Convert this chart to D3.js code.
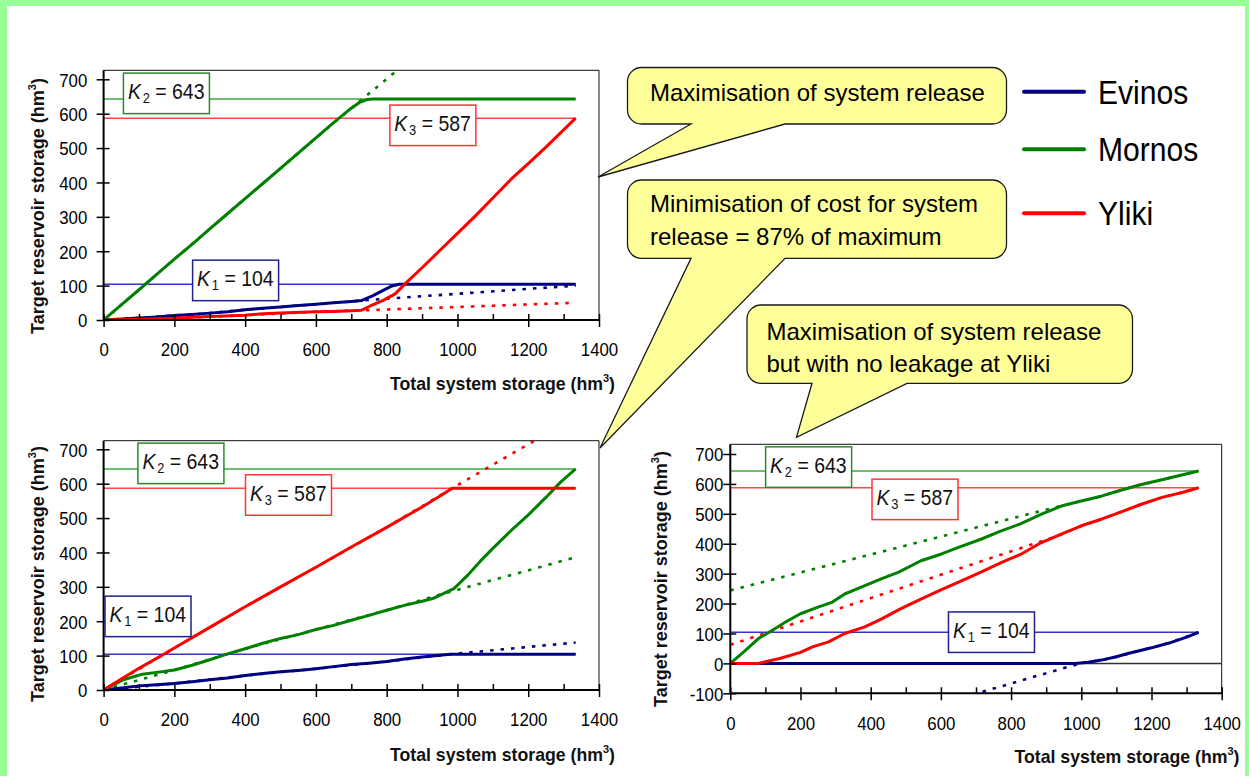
<!DOCTYPE html>
<html><head><meta charset="utf-8">
<script src="https://cdn.jsdelivr.net/npm/d3@7"></script>
<style>
html,body{margin:0;padding:0;background:#fff;}
svg{display:block;}
text{font-family:"Liberation Sans",Arial,Helvetica,sans-serif;}
</style></head><body>
<svg id="c" width="1249" height="776"></svg>
<script>
// ---------------- DATA ----------------
const reservoirs = ["Evinos", "Mornos", "Yliki"];
const capacity = [104, 643, 587];            // K1, K2, K3 (hm3)
const xTicks = [0, 200, 400, 600, 800, 1000, 1200, 1400];
const xMinorTicks = [100, 300, 500, 700, 900, 1100, 1300];
const yTicksPos = [0, 100, 200, 300, 400, 500, 600, 700];
const yTicksNeg = [-100, 0, 100, 200, 300, 400, 500, 600, 700];
const xTitle = "Total system storage (hm";
const yTitle = "Target reservoir storage (hm";
const notes = [
  ["Maximisation of system release"],
  ["Minimisation of cost for system", "release = 87% of maximum"],
  ["Maximisation of system release", "but with no leakage at Yliki"]
];

// Panel 1: maximisation of system release
const p1Evinos = [[0,0],[50,3],[100,6],[150,9],[200,13],[250,16],[300,20],[350,24],[400,30],[450,34],[500,38],[550,42],[600,46],[650,50],[700,54],[730,57],[760,70],[790,86],[815,99],[835,104],[1334,104]];
const p1EvinosDot = [[0,0],[100,6],[200,13],[300,20],[400,30],[500,38],[600,46],[700,54],[730,57],[1334,100]];
const p1Mornos = [[0,0],[50,44],[100,88],[150,133],[200,177],[250,220],[300,265],[350,309],[400,353],[450,397],[500,441],[550,485],[600,530],[650,574],[700,616],[725,634],[745,641],[760,643],[1334,643]];
const p1MornosDot = [[0,0],[100,88],[200,177],[300,265],[400,353],[500,441],[600,530],[700,616],[840,735]];
const p1Yliki = [[0,0],[100,2],[200,5],[250,8],[300,10],[400,14],[450,18],[500,20],[600,24],[650,25],[700,27],[728,28],[752,40],[790,57],[824,76],[857,110],[900,152],[950,202],[1000,252],[1050,302],[1100,355],[1150,408],[1200,455],[1250,503],[1300,553],[1334,587]];
const p1YlikiDot = [[0,0],[200,5],[400,14],[600,24],[728,28],[1334,50]];

// Panel 2: minimisation of cost, release = 87% of maximum
const p2Evinos = [[0,0],[50,6],[100,12],[150,15],[200,19],[250,24],[300,30],[350,35],[400,42],[450,48],[500,53],[550,57],[600,62],[650,68],[700,74],[750,78],[800,83],[850,90],[900,96],[950,101],[980,104],[1334,104]];
const p2EvinosDot = [[0,0],[200,19],[400,42],[600,62],[800,83],[980,104],[1334,138]];
const p2Mornos = [[0,0],[56,30],[110,46],[155,52],[200,58],[250,72],[300,88],[350,105],[400,120],[450,136],[500,150],[550,161],[600,176],[650,188],[700,203],[750,217],[800,232],[850,246],[900,258],[930,266],[960,280],[990,295],[1030,335],[1064,374],[1100,412],[1159,471],[1201,510],[1250,560],[1290,603],[1334,643]];
const p2MornosDot = [[0,0],[200,58],[400,120],[600,176],[800,232],[960,280],[1334,386]];
const p2Yliki = [[0,0],[50,32],[100,63],[170,104],[200,122],[300,182],[400,242],[500,300],[600,357],[700,416],[800,473],[900,532],[960,570],[985,587],[1334,587]];
const p2YlikiDot = [[0,0],[200,122],[400,242],[600,357],[800,473],[985,587],[1240,738]];

// Panel 3: maximisation of system release, no leakage at Yliki
const p3Evinos = [[0,0],[983,0],[1020,4],[1057,11],[1100,22],[1130,32],[1171,44],[1200,52],[1250,68],[1300,88],[1334,104]];
const p3EvinosDot = [[690,-105],[800,-67],[900,-33],[1000,1],[1057,11],[1100,22],[1171,44],[1250,68],[1334,104]];
const p3Mornos = [[0,0],[40,40],[80,83],[120,111],[160,140],[200,166],[250,188],[291,205],[326,232],[380,258],[428,282],[480,305],[543,343],[600,365],[650,388],[714,415],[770,442],[828,467],[885,498],[943,526],[1000,543],[1057,559],[1110,578],[1171,598],[1230,614],[1280,628],[1334,643]];
const p3MornosDot = [[0,244],[940,526],[1000,543],[1057,559],[1110,578],[1171,598],[1230,614],[1280,628],[1334,643]];
const p3Yliki = [[0,0],[80,0],[143,17],[200,37],[234,55],[280,72],[326,100],[383,122],[430,148],[486,183],[540,213],[600,246],[660,277],[714,305],[770,336],[828,365],[880,400],[943,432],[1000,460],[1057,482],[1110,505],[1171,532],[1230,555],[1290,572],[1334,587]];
const p3YlikiDot = [[0,62],[937,428],[1000,460],[1057,482],[1110,505],[1171,532],[1230,555],[1290,572],[1334,587]];

// K-label anchors (data coords of box top-left corner) per panel: K1, K2, K3
const p1Labels = [[251.5,174],[56,718],[809,625]];
const p2Labels = [[4,273],[97,718],[401,626]];
const p3Labels = [[621.6,172],[100.6,724],[403.7,616]];

// ---------------- STYLE / LAYOUT ----------------
const seriesColor = ["#000080", "#008000", "#ff0000"];
const kLineColor = ["#3535cc", "#3aa83a", "#ff4545"];
const kBoxColor = ["#202090", "#2a8a2a", "#ff3535"];
const NARROW = 0.885;

const panels = [
  {xr:[103.6,599], yd:[0,700], yr:[320,79.3], top:70.3, yt:yTicksPos, lblOff:16.3,
   xt:[615,389.5], ytl:[44,206],
   solid:[p1Evinos,p1Mornos,p1Yliki], dot:[p1EvinosDot,p1MornosDot,p1YlikiDot], labels:p1Labels},
  {xr:[103.6,599], yd:[0,700], yr:[690,449.3], top:440.7, yt:yTicksPos, lblOff:16.3,
   xt:[615,760.5], ytl:[44,574],
   solid:[p2Evinos,p2Mornos,p2Yliki], dot:[p2EvinosDot,p2MornosDot,p2YlikiDot], labels:p2Labels},
  {xr:[730.3,1221.7], yd:[-100,700], yr:[693.3,454], top:444.3, yt:yTicksNeg, lblOff:7,
   xt:[1239.5,763], ytl:[667,579],
   solid:[p3Evinos,p3Mornos,p3Yliki], dot:[p3EvinosDot,p3MornosDot,p3YlikiDot], labels:p3Labels}
];

const svg = d3.select("#c");
svg.append("rect").attr("width",1249).attr("height",776).attr("fill","#99ff99");
svg.append("rect").attr("x",7).attr("y",6).attr("width",1238).attr("height",770).attr("fill","#ffffff");
const defs = svg.append("defs");
const total = d3.sum(capacity);

panels.forEach((p, i) => {
  const x = d3.scaleLinear().domain([0,1400]).range(p.xr);
  const y = d3.scaleLinear().domain(p.yd).range(p.yr);
  const g = svg.append("g");
  const xL = x(0), xR = x(1400), yB = y(p.yd[0]), yT = p.top;

  defs.append("clipPath").attr("id","clip"+i).append("rect")
    .attr("x",xL).attr("y",yT).attr("width",xR-xL).attr("height",yB-yT);

  g.append("path").attr("d",`M${xL},${yT}H${xR}V${yB}`).attr("fill","none")
    .attr("stroke","#111").attr("stroke-width",1);

  if (p.yd[0] < 0) {
    g.append("line").attr("x1",xL).attr("x2",xR).attr("y1",y(0)).attr("y2",y(0))
      .attr("stroke","#333").attr("stroke-width",1.5);
  }

  capacity.forEach((k,j) => {
    g.append("line").attr("x1",x(0)).attr("x2",x(total)).attr("y1",y(k)).attr("y2",y(k))
      .attr("stroke",kLineColor[j]).attr("stroke-width",1.5);
  });

  const line = d3.line().x(d=>x(d[0])).y(d=>y(d[1]));
  const lg = g.append("g").attr("clip-path",`url(#clip${i})`);
  p.dot.forEach((s,j) => {
    lg.append("path").attr("d",line(s)).attr("fill","none").attr("stroke",seriesColor[j])
      .attr("stroke-width",2.6).attr("stroke-dasharray","3.5,7");
  });
  p.solid.forEach((s,j) => {
    lg.append("path").attr("d",line(s)).attr("fill","none").attr("stroke",seriesColor[j])
      .attr("stroke-width",3).attr("stroke-linejoin","round");
  });

  const ax = g.append("g").attr("transform",`translate(0,${yB})`)
    .call(d3.axisBottom(x).tickValues(xTicks).tickSize(7).tickFormat(d=>String(d)));
  ax.select(".domain").remove();
  ax.selectAll(".tick line").attr("y1",-6).attr("stroke","#000").attr("stroke-width",1.5);
  ax.selectAll(".tick text").attr("y",23).attr("dy","0.71em").attr("font-size",19)
    .attr("font-family",null).attr("fill","#000").attr("transform",`scale(${NARROW},1)`);
  const axm = g.append("g").attr("transform",`translate(0,${yB})`)
    .call(d3.axisBottom(x).tickValues(xMinorTicks).tickSize(-6).tickFormat(""));
  axm.select(".domain").remove();
  axm.selectAll(".tick line").attr("stroke","#000").attr("stroke-width",1.5);

  const ay = g.append("g").attr("transform",`translate(${xL},0)`)
    .call(d3.axisLeft(y).tickValues(p.yt).tickSize(7).tickFormat(d=>String(d)));
  ay.select(".domain").remove();
  ay.selectAll(".tick line").attr("x2",6).attr("x1",-7).attr("stroke","#000").attr("stroke-width",1.5);
  ay.selectAll(".tick text").attr("x",-p.lblOff/NARROW).attr("dy","0.36em").attr("font-size",19)
    .attr("font-family",null).attr("fill","#000").attr("transform",`scale(${NARROW},1)`);

  g.append("path").attr("d",`M${xL},${yT}V${yB}H${xR}`).attr("fill","none")
    .attr("stroke","#000").attr("stroke-width",2);

  const tx = g.append("text").attr("x",p.xt[0]).attr("y",p.xt[1]).attr("text-anchor","end")
    .attr("font-size",17.7).attr("font-weight","bold").attr("fill","#111");
  tx.append("tspan").text(xTitle);
  tx.append("tspan").attr("font-size",11).attr("dy",-8).text("3");
  tx.append("tspan").attr("dy",8).text(")");
  const ty = g.append("text").attr("transform",`translate(${p.ytl[0]},${p.ytl[1]}) rotate(-90)`)
    .attr("text-anchor","middle").attr("font-size",18).attr("font-weight","bold").attr("fill","#111");
  ty.append("tspan").text(yTitle);
  ty.append("tspan").attr("font-size",11).attr("dy",-8).text("3");
  ty.append("tspan").attr("dy",8).text(")");

  capacity.forEach((k,j) => {
    const a = p.labels[j];
    const lb = g.append("g").attr("transform",`translate(${x(a[0])},${y(a[1])})`);
    lb.append("rect").attr("width",86).attr("height",40.5).attr("fill","#fff")
      .attr("stroke",kBoxColor[j]).attr("stroke-width",1.5);
    const t = lb.append("text").attr("transform",`translate(4.5,26) scale(${NARROW},1)`)
      .attr("font-size",22).attr("fill","#111");
    t.append("tspan").attr("font-style","italic").text("K");
    t.append("tspan").attr("font-size",14.5).attr("dx",2).attr("dy",4).text(String(j+1));
    t.append("tspan").attr("dy",-4).text(" = " + k);
  });
});

// ---------------- CALLOUTS ----------------
function calloutPath(r, base, tip, rad) {
  const [x0,y0,x1,y1] = r;
  return `M${x0+rad},${y0}H${x1-rad}A${rad},${rad} 0 0 1 ${x1},${y0+rad}V${y1-rad}` +
         `A${rad},${rad} 0 0 1 ${x1-rad},${y1}H${base[1]}L${tip[0]},${tip[1]}L${base[0]},${y1}` +
         `H${x0+rad}A${rad},${rad} 0 0 1 ${x0},${y1-rad}V${y0+rad}A${rad},${rad} 0 0 1 ${x0+rad},${y0}Z`;
}
const callouts = [
  {r:[627.5,67.5,1006.5,124], base:[691,785], tip:[598,177], tx:650, ty:[101]},
  {r:[627.5,180,1006.5,258.3], base:[691,785], tip:[600,448], tx:650, ty:[211.5,245]},
  {r:[747,305,1132.5,383.3], base:[812,907], tip:[796.5,437.3], tx:766.5, ty:[340,372]}
];
callouts.forEach((c,i) => {
  svg.append("path").attr("d",calloutPath(c.r,c.base,c.tip,14)).attr("fill","#ffff99")
    .attr("stroke","#1a1a1a").attr("stroke-width",1.3);
  notes[i].forEach((s,k) => {
    svg.append("text").attr("x",c.tx).attr("y",c.ty[k]).attr("font-size",24).attr("fill","#000").text(s);
  });
});

// ---------------- LEGEND ----------------
const legY = [91.7, 149.3, 213.3];
reservoirs.forEach((name,j) => {
  svg.append("line").attr("x1",1024).attr("x2",1084).attr("y1",legY[j]).attr("y2",legY[j])
    .attr("stroke",seriesColor[j]).attr("stroke-width",4).attr("stroke-linecap","round");
  svg.append("text").attr("transform",`translate(1098,${legY[j]+12}) scale(${NARROW},1)`)
    .attr("font-size",34).attr("fill","#000").text(name);
});
</script>
</body></html>
